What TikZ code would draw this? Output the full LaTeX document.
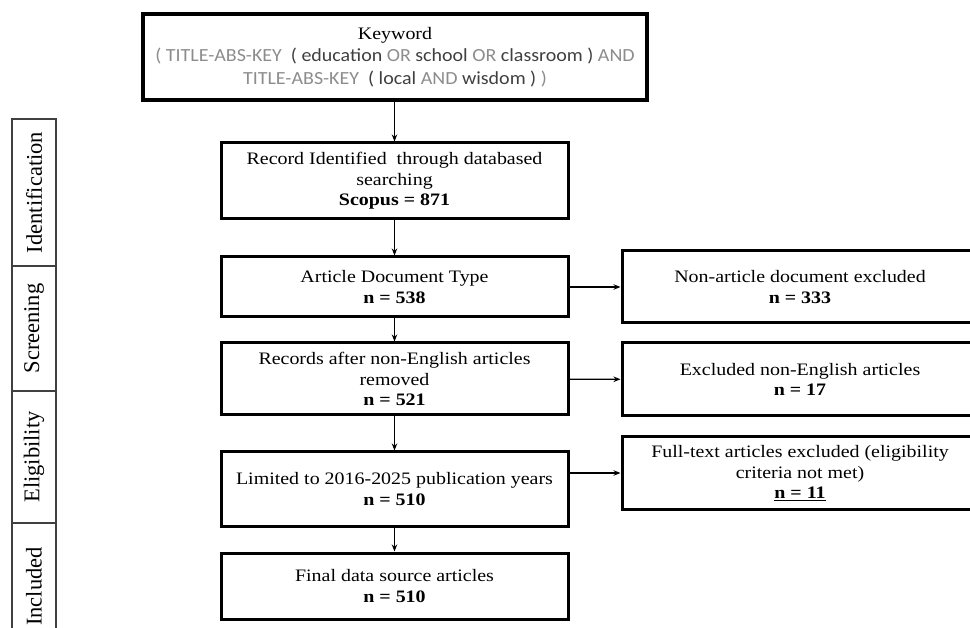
\documentclass[tikz,border=0pt]{standalone}
\usepackage{fontspec}
\setmainfont{Liberation Serif}[FakeStretch=1.14]
\newfontfamily\sidefont{Liberation Serif}
\newfontfamily\kwfont{Carlito}[FakeStretch=1.08]
\usetikzlibrary{arrows.meta}
\definecolor{qgray}{HTML}{8C8C8C}
\definecolor{qdark}{HTML}{3F3F3F}
\newcommand{\qg}[1]{{\color{qgray}#1}}
\newcommand{\qd}[1]{{\color{qdark}#1}}

\tikzset{
    flowbox/.style={draw, line width=3pt, align=center, inner sep=2pt, minimum width=347pt, font=\fontsize{17.5}{20.5}\selectfont},
    sidebox/.style={flowbox, minimum width=356pt},
    phasebox/.style={draw=black!75, line width=1.3pt, minimum height=44pt, rotate=90, font=\sidefont\fontsize{22.5}{25}\selectfont},
    flowarrow/.style={-{Stealth[length=7pt, width=5.5pt]}, line width=1.3pt},
}

\begin{document}
\begin{tikzpicture}[x=1pt, y=-1pt]
                \clip(0, 0)rectangle(970, 628);

                \node[flowbox, line width=4pt, minimum width=504pt, minimum height=86pt, font=\fontsize{17.5}{22.5}\selectfont](kw) at (395, 57)
                    {Keyword\\
                    {\kwfont\fontsize{18.5}{22.5}\selectfont\qg{( TITLE-ABS-KEY}\ \ \qd{( education} \qg{OR} \qd{school} \qg{OR} \qd{classroom )} \qg{AND}}\\
                    {\kwfont\fontsize{18.5}{22.5}\selectfont\qg{TITLE-ABS-KEY}\ \ \qd{( local} \qg{AND} \qd{wisdom )} \qg{)}}};

                \node[flowbox, minimum height=76pt](rec) at (394.5, 181)
                    {Record Identified\ \ through databased\\ searching\\ \textbf{Scopus = 871}};
                \node[flowbox, minimum height=60pt](art) at (394.5, 287)
                    {Article Document Type\\ \textbf{n = 538}};
                \node[flowbox, minimum height=72pt](rem) at (394.5, 379)
                    {Records after non-English articles\\ removed\\ \textbf{n = 521}};
                \node[flowbox, minimum height=74pt](lim) at (394.5, 489)
                    {Limited to 2016-2025 publication years\\ \textbf{n = 510}};
                \node[flowbox, minimum height=66pt](fin) at (394.5, 586)
                    {Final data source articles\\ \textbf{n = 510}};

                \node[sidebox, minimum height=72pt](non) at (800, 287)
                    {Non-article document excluded\\ \textbf{n = 333}};
                \node[sidebox, minimum height=73pt](exc) at (800, 379.5)
                    {Excluded non-English articles\\ \textbf{n = 17}};
                \node[sidebox, minimum height=72pt](ful) at (800, 473)
                    {Full-text articles excluded (eligibility\\ criteria not met)\\ \textbf{\underline{n = 11}}};

                \node[phasebox, minimum width=147pt](ident) at (34, 192.5){Identification};
                \node[phasebox, minimum width=125pt](scr) at (34, 328.5){Screening};
                \node[phasebox, minimum width=132pt](eli) at (34, 457){Eligibility};
                \node[phasebox, minimum width=127pt](inc) at (34, 586.5){Included};

                \draw[flowarrow](kw.south -| rec.north)--(rec.north);
                \draw[flowarrow](rec)--(art);
                \draw[flowarrow](art)--(rem);
                \draw[flowarrow](rem)--(lim);
                \draw[flowarrow](lim)--(fin);

                \draw[flowarrow](art)--(non);
                \draw[flowarrow](rem)--(exc);
                \draw[flowarrow](lim.east |- ful.west)--(ful.west);
            \end{tikzpicture}
\end{document}
